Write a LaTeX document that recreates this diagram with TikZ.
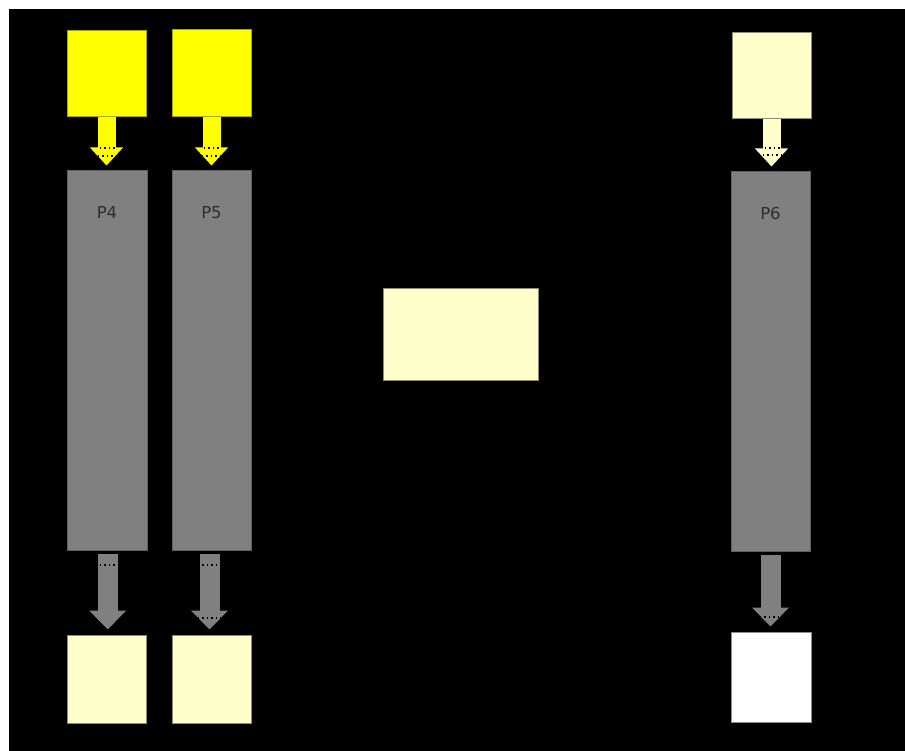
\documentclass[tikz,border=0pt]{standalone}
\usepackage{fontspec}
\setsansfont{DejaVu Sans}
\usepackage{tikz}
\usetikzlibrary{arrows.meta,positioning}

\definecolor{inyel}{RGB}{255,255,0}
\definecolor{lightyel}{HTML}{FFFFCC}
\definecolor{procgray}{HTML}{808080}
\definecolor{txtgray}{HTML}{2E2E2E}

\begin{document}
\begin{tikzpicture}[x = 1pt, y = -1pt,
  box/.style = {draw, line width = 1pt, inner sep = 0pt, minimum width = 79pt},
  inbox/.style = {box, fill = inyel, draw = inyel!65!black, minimum height = 86pt},
  outbox/.style = {box, fill = lightyel, draw = lightyel!55!black, minimum height = 88pt},
  proc/.style = {box, fill = procgray, draw = procgray!75!black, minimum height = 379pt},
  lbl/.style = {font = \sffamily\fontsize{16.5}{16.5}\selectfont, text = txtgray},
  arrin/.style = {line width = 18pt, -{Triangle[width = 32pt, length = 18pt]}, shorten > = 5pt},
  arrout/.style = {line width = 20pt, procgray, -{Triangle[width = 36pt, length = 19pt]}, shorten < = 3pt, shorten > = 5pt},
  dots/.style = {black, line width = 1.4pt, dash pattern = on 1.4pt off 3pt}]
\useasboundingbox[fill = white] (0,0) rectangle (905,751);
\fill[black] (9,9) rectangle (905,751);

\node[inbox] (in4) at (106.5,74) {}; %in P4
\node[inbox, minimum height = 87pt] (in5) at (211.5,73.5) {}; %in P5
\node[inbox, fill = lightyel, draw = lightyel!55!black] (in6) at (771.5,76) {}; %in P6

\node[proc, minimum width = 80pt] (p4) at (107,360.5) {}; %P4
\node[proc] (p5) at (211.5,360.5) {}; %P5
\node[proc] (p6) at (770.5,361.5) {}; %P6
\node[lbl] at ([yshift = -42pt]p4.north) {P4};
\node[lbl] at ([yshift = -42pt]p5.north) {P5};
\node[lbl] at ([yshift = -42pt]p6.north) {P6};

\node[outbox] (out4) at (106.5,679) {}; %out P4
\node[outbox] (out5) at (211.5,679) {}; %out P5
\node[outbox, fill = white, draw = white!55!black, minimum width = 80pt, minimum height = 90pt] (out6) at (771,677) {}; %out P6

\node[outbox, minimum width = 155pt, minimum height = 91pt] (mid) at (460.5,334.5) {}; %middle

\draw[arrin, inyel] (in4.south) -- (in4.south |- p4.north);
\draw[arrin, inyel] (in5.south) -- (in5.south |- p5.north);
\draw[arrin, lightyel] (in6.south) -- (in6.south |- p6.north);
\draw[arrout] ([xshift = 0.7pt]p4.south) -- ([xshift = 0.7pt]p4.south |- out4.north);
\draw[arrout] ([xshift = -2pt]p5.south) -- ([xshift = -2pt]p5.south |- out5.north);
\draw[arrout] (p6.south) -- (p6.south |- out6.north);

% little dots on the arrows
\draw[dots] (100,148) -- (115,148); \draw[dots] (98,156) -- (117,156);
\draw[dots] (204,148) -- (219,148); \draw[dots] (202,156) -- (221,156);
\draw[dots] (765,148) -- (780,148); \draw[dots] (763,155) -- (782,155);
\draw[dots] (100,565) -- (117,565);
\draw[dots] (198,565) -- (219,565); \draw[dots] (198,618) -- (222,618);
\draw[dots] (760,617) -- (785,617);
\end{tikzpicture}
\end{document}
